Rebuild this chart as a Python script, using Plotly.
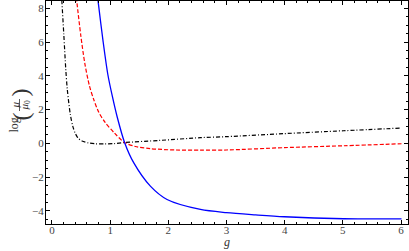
import plotly.graph_objects as go

# ---- data ----
g_blue = [0.774, 0.797, 0.880, 0.960, 1.040, 1.120, 1.249, 1.404, 1.691, 1.978, 2.552, 2.998, 3.50, 3.996, 5.011, 6.009]
v_blue = [9.0, 8.29, 6.00, 4.08, 2.75, 1.58, 0.04, -1.14, -2.53, -3.32, -3.91, -4.10, -4.23, -4.34, -4.46, -4.47]

g_red = [0.406, 0.430, 0.495, 0.564, 0.642, 0.716, 0.805, 0.917, 1.072, 1.244, 1.433, 1.692, 2.122, 2.551, 2.998, 3.996, 5.011, 6.009]
v_red = [9.0, 8.29, 6.39, 4.74, 3.43, 2.61, 1.84, 1.23, 0.62, 0.06, -0.18, -0.31, -0.39, -0.40, -0.39, -0.25, -0.14, -0.02]

g_black = [0.160, 0.172, 0.203, 0.237, 0.263, 0.315, 0.358, 0.401, 0.452, 0.516, 0.624, 0.745, 0.917, 1.072, 1.244, 1.863, 2.551, 2.998, 3.996, 5.011, 6.009]
v_black = [9.0, 8.29, 6.45, 4.38, 3.20, 1.72, 1.01, 0.59, 0.30, 0.14, 0.03, -0.02, -0.03, -0.01, 0.05, 0.18, 0.34, 0.40, 0.58, 0.75, 0.91]

x_ticks = [0, 1, 2, 3, 4, 5, 6]
y_ticks = [-4, -2, 0, 2, 4, 6, 8]

W, H = 409, 251
ML, MR, MT, MB = 46, 1, 1, 27
PW, PH = W - ML - MR, H - MT - MB

def px(x):
    return (x - ML) / PW

def py(y):
    return (H - MB - y) / PH

SERIF = "Liberation Serif"
TICKC = "#444444"

fig = go.Figure()
fig.add_trace(go.Scatter(x=g_black, y=v_black, mode="lines",
                         line=dict(color="black", width=1.2, dash="4px,2px,1px,2px", shape="spline", smoothing=0.8)))
fig.add_trace(go.Scatter(x=g_red, y=v_red, mode="lines",
                         line=dict(color="#ff0000", width=1.2, dash="4px,2px", shape="spline", smoothing=0.8)))
fig.add_trace(go.Scatter(x=g_blue, y=v_blue, mode="lines",
                         line=dict(color="#0000ff", width=1.3, shape="spline", smoothing=0.8)))

axis_common = dict(showline=True, linecolor="black", linewidth=1, mirror="ticks",
                   ticks="inside", ticklen=4, tickwidth=1, tickcolor="black",
                   showgrid=False, zeroline=False,
                   tickfont=dict(family=SERIF, size=11, color=TICKC))

fig.update_layout(
    width=W, height=H,
    margin=dict(l=ML, r=MR, t=MT, b=MB),
    paper_bgcolor="white", plot_bgcolor="white",
    showlegend=False,
    xaxis=dict(range=[-0.103, 6.12], tickvals=x_ticks, ticktext=[str(t) for t in x_ticks],
               minor=dict(dtick=0.2, ticklen=2, ticks="inside", tickcolor="black"),
               ticklabelstandoff=-4,
               **axis_common),
    yaxis=dict(range=[-4.77, 8.43], tickvals=y_ticks, ticktext=[str(t).replace("-", "\u2212") for t in y_ticks],
               minor=dict(dtick=0.5, ticklen=2, ticks="inside", tickcolor="black"),
               ticklabelstandoff=-1,
               **axis_common),
)

ann = [
    dict(text="<i>g</i>", x=px(227), y=py(242), font=dict(size=12)),
    dict(text="log", x=px(14), y=py(125.5), textangle=-90, font=dict(size=12)),
    dict(text="(", x=px(20), y=py(116.5), textangle=-90, font=dict(size=24)),
    dict(text=")", x=px(20), y=py(92.5), textangle=-90, font=dict(size=24)),
    dict(text="<i>μ</i>", x=px(14.5), y=py(105), textangle=-90, font=dict(size=11)),
    dict(text="<i>μ</i><sub>0</sub>", x=px(24.5), y=py(105), textangle=-90, font=dict(size=11)),
]
for a in ann:
    a.update(xref="paper", yref="paper", showarrow=False, xanchor="center", yanchor="middle")
    a["font"].update(family=SERIF, color="#333333")
    fig.add_annotation(**a)

fig.add_shape(type="line", xref="paper", yref="paper",
              x0=px(19.5), x1=px(19.5), y0=py(99), y1=py(111),
              line=dict(color="#333333", width=0.8))

fig.write_html("out.html", config={"displayModeBar": False},
               post_script="document.body.style.margin='0px';document.body.style.overflow='hidden';")
